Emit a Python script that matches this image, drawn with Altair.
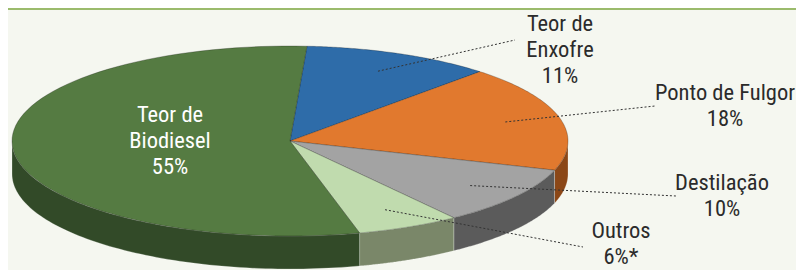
import math
import altair as alt
import pandas as pd

# ---- data (clockwise from the top) ----
categories = ["Teor de Enxofre", "Ponto de Fulgor", "Destilação", "Outros", "Teor de Biodiesel"]
shares = [11, 18, 10, 6, 55]
labels = ["Teor de\nEnxofre\n11%", "Ponto de Fulgor\n18%", "Destilação\n10%", "Outros\n6%*",
          "Teor de\nBiodiesel\n55%"]

# ---- styles ----
top_colors = ["#2e6ca9", "#e1792e", "#a3a3a3", "#c0dbae", "#557b42"]
side_colors = ["#1f4a75", "#8b4717", "#5b5b5b", "#7a8769", "#324a28"]
FONT = "Roboto Condensed, DejaVu Sans Condensed, sans-serif"

# ---- label layout (page pixels; y is the first text line) ----
label_x = [560, 725, 722, 621, 170]
label_y = [24, 93, 183, 231, 115]
leader_x = [515, 655, 676, 583, None]
leader_y = [40, 106, 196, 247, None]

# ---- pie geometry (page pixels) ----
CX, CY, RX, RY, DEPTH = 290, 141, 278, 95, 33
START = math.radians(3.5)
N = 80
W, H = 788, 262

df = pd.DataFrame({
    "category": categories, "share": shares, "label": labels, "slot": list(range(len(categories))),
    "tx": label_x, "ty": label_y, "ex": leader_x, "ey": leader_y,
})

xs = alt.Scale(domain=[8, 8 + W], nice=False, zero=False)
ys = alt.Scale(domain=[8, 8 + H], reverse=True, nice=False, zero=False)

base = (
    alt.Chart(df)
    .transform_joinaggregate(total="sum(share)")
    .transform_window(cum="sum(share)", sort=[alt.SortField("slot")], frame=[None, 0])
    .transform_calculate(a1=f"{START} + 2*PI*datum.cum/datum.total")
    .transform_calculate(a0="datum.a1 - 2*PI*datum.share/datum.total")
)

# side walls (front half only)
sides = (
    base.transform_calculate(s0="max(datum.a0, PI/2)")
    .transform_calculate(s1="min(datum.a1, 3*PI/2)")
    .transform_filter("datum.s1 > datum.s0")
    .transform_calculate(seq=f"sequence(0, {2 * N + 2})")
    .transform_flatten(["seq"], as_=["k"])
    .transform_calculate(
        th=f"datum.k <= {N} ? datum.s0 + (datum.s1-datum.s0)*datum.k/{N} : "
           f"datum.s1 - (datum.s1-datum.s0)*(datum.k-{N + 1})/{N}"
    )
    .transform_calculate(px=f"{CX} + {RX}*sin(datum.th)")
    .transform_calculate(py=f"{CY} - {RY}*cos(datum.th) + (datum.k <= {N} ? 0 : {DEPTH})")
    .mark_line(filled=True, interpolate="linear-closed", stroke="#ffffff", strokeOpacity=0.3, strokeWidth=0.8)
    .encode(
        x=alt.X("px:Q", scale=xs, axis=None),
        y=alt.Y("py:Q", scale=ys, axis=None),
        order="k:Q",
        detail="category:N",
        color=alt.Color("category:N", scale=alt.Scale(domain=categories, range=side_colors), legend=None),
    )
)

# top faces
tops = (
    base.transform_calculate(seq=f"sequence(0, {N + 2})")
    .transform_flatten(["seq"], as_=["k"])
    .transform_calculate(th=f"datum.a0 + (datum.a1-datum.a0)*(datum.k-1)/{N}")
    .transform_calculate(px=f"datum.k == 0 ? {CX} : {CX} + {RX}*sin(datum.th)")
    .transform_calculate(py=f"datum.k == 0 ? {CY} : {CY} - {RY}*cos(datum.th)")
    .mark_line(filled=True, interpolate="linear-closed", stroke="#000000", strokeOpacity=0.3, strokeWidth=0.8)
    .encode(
        x=alt.X("px:Q", scale=xs, axis=None),
        y=alt.Y("py:Q", scale=ys, axis=None),
        order="k:Q",
        detail="category:N",
        color=alt.Color("category:N", scale=alt.Scale(domain=categories, range=top_colors), legend=None),
    )
)

# dashed leader lines
leaders = (
    base.transform_filter("isValid(datum.ex)")
    .transform_calculate(mid="(datum.a0 + datum.a1)/2")
    .transform_calculate(sx=f"{CX} + 0.8*{RX}*sin(datum.mid)")
    .transform_calculate(sy=f"{CY} - 0.8*{RY}*cos(datum.mid)")
    .mark_rule(strokeDash=[2, 2], strokeWidth=1, color="#333333")
    .encode(
        x=alt.X("sx:Q", scale=xs, axis=None),
        x2="ex:Q",
        y=alt.Y("sy:Q", scale=ys, axis=None),
        y2="ey:Q",
    )
)

texts = (
    alt.Chart(df)
    .mark_text(font=FONT, fontSize=22.5, fontWeight=400, lineHeight=26, lineBreak="\n",
               align="center", baseline="middle")
    .encode(
        x=alt.X("tx:Q", scale=xs, axis=None),
        y=alt.Y("ty:Q", scale=ys, axis=None),
        text="label:N",
        color=alt.condition(alt.datum.category == "Teor de Biodiesel", alt.value("#ffffff"), alt.value("#2b2b2b")),
    )
)

top_line = (
    alt.Chart(pd.DataFrame({"k": [0]}))
    .mark_rule(color="#9bbb6c", strokeWidth=2)
    .encode(x=alt.value(0), x2=alt.value(W), y=alt.value(1))
)

chart = (
    alt.layer(top_line, sides, tops, leaders, texts)
    .resolve_scale(color="independent")
    .properties(
        width=W, height=H, padding=0, background="#f5f7f0",
        autosize=alt.AutoSizeParams(type="none"),
    )
    .configure_view(stroke=None)
)

chart.save("out.html", embed_options={"renderer": "svg", "actions": False})
